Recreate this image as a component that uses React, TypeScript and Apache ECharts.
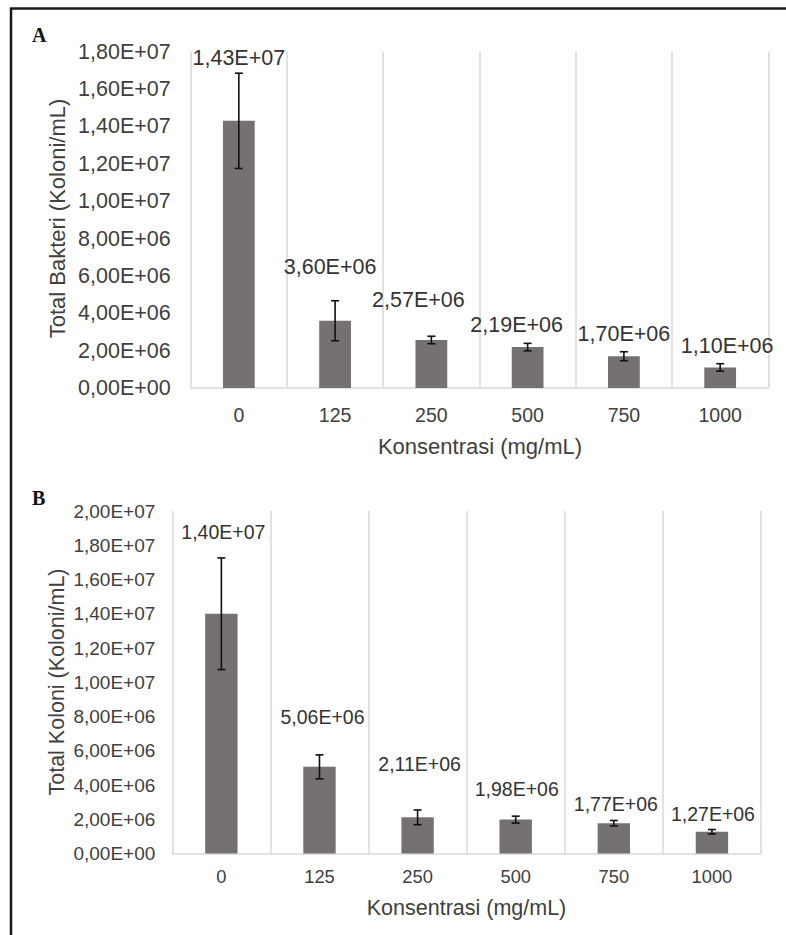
import React, { useEffect, useRef } from "react";
import * as echarts from "echarts";

const categories = ["0", "125", "250", "500", "750", "1000"];
const meanA = [1.43e7, 3.6e6, 2.57e6, 2.19e6, 1.7e6, 1.1e6];
const errA = [2.55e6, 1.07e6, 0.2e6, 0.2e6, 0.24e6, 0.2e6];
const meanB = [1.4e7, 5.06e6, 2.11e6, 1.98e6, 1.77e6, 1.27e6];
const errB = [3.26e6, 0.7e6, 0.43e6, 0.2e6, 0.16e6, 0.13e6];

// label placement (pixels) – styling only
const labelDistA = [52, 43, 29, 11, 11, 10];
const labelDxA = [0, -5, -13, -11, 0, 7];
const labelDistB = [72, 40, 43, 21, 9, 8];
const labelDxB = [2, 3, 2, 1, 2, 1];

const FONT = "'Liberation Sans', Arial, sans-serif";
const TEXT = "#404040";
const BAR = "#767171";
const GRID = "#d9d9d9";

function sci(v: number): string {
  const s = v.toExponential(2);
  const [m, e] = s.split("e");
  const ei = parseInt(e, 10);
  return m.replace(".", ",") + "E" + (ei < 0 ? "-" : "+") + String(Math.abs(ei)).padStart(2, "0");
}

function errRender(params: any, api: any) {
  const x = api.value(0);
  const lo = api.value(1);
  const hi = api.value(2);
  const pHi = api.coord([x, hi]);
  const pLo = api.coord([x, lo]);
  const half = 4;
  const style = { stroke: "#111", lineWidth: 1.6 };
  return {
    type: "group",
    children: [
      { type: "line", shape: { x1: pHi[0], y1: pHi[1], x2: pLo[0], y2: pLo[1] }, style },
      { type: "line", shape: { x1: pHi[0] - half, y1: pHi[1], x2: pHi[0] + half, y2: pHi[1] }, style },
      { type: "line", shape: { x1: pLo[0] - half, y1: pLo[1], x2: pLo[0] + half, y2: pLo[1] }, style },
    ],
  };
}

export default function App() {
  const ref = useRef<HTMLDivElement>(null);
  useEffect(() => {
    if (!ref.current) return;
    const chart = echarts.init(ref.current, undefined, { renderer: "svg" });

    const xAxisBase = (gridIndex: number, fs: number, margin: number) => ({
      type: "category",
      gridIndex,
      data: categories,
      axisLine: { show: true, lineStyle: { color: GRID, width: 1.5 } },
      axisTick: { show: false },
      axisLabel: { color: TEXT, fontSize: fs, fontFamily: FONT, margin },
      splitLine: { show: true, lineStyle: { color: GRID, width: 1.5 } },
    });
    const yAxisBase = (gridIndex: number, max: number, fs: number, margin: number) => ({
      type: "value",
      gridIndex,
      min: 0,
      max,
      interval: 2e6,
      axisLine: { show: false },
      axisTick: { show: false },
      splitLine: { show: false },
      axisLabel: { color: TEXT, fontSize: fs, fontFamily: FONT, margin, formatter: (v: number) => sci(v) },
    });

    const barData = (mean: number[], dist: number[], dx: number[]) =>
      mean.map((v, i) => ({ value: v, label: { distance: dist[i], offset: [dx[i], 0] } }));

    const option = {
      animation: false,
      backgroundColor: "#ffffff",
      grid: [
        { left: 190.7, width: 577.6, top: 51.7, height: 336.3 },
        { left: 172.3, width: 588.7, top: 511, height: 342.5 },
      ],
      xAxis: [xAxisBase(0, 19.5, 17), xAxisBase(1, 18.3, 14)],
      yAxis: [yAxisBase(0, 1.8e7, 21.5, 20), yAxisBase(1, 2e7, 19, 17)],
      series: [
        {
          type: "bar",
          xAxisIndex: 0,
          yAxisIndex: 0,
          barWidth: "33%",
          itemStyle: { color: BAR },
          label: { show: true, position: "top", color: "#333", fontSize: 21.5, fontFamily: FONT, formatter: (p: any) => sci(p.value) },
          data: barData(meanA, labelDistA, labelDxA),
          z: 2,
        },
        {
          type: "custom",
          xAxisIndex: 0,
          yAxisIndex: 0,
          renderItem: errRender,
          encode: { x: 0, y: [1, 2] },
          data: meanA.map((v, i) => [i, v - errA[i], v + errA[i]]),
          z: 3,
        },
        {
          type: "bar",
          xAxisIndex: 1,
          yAxisIndex: 1,
          barWidth: "33%",
          itemStyle: { color: BAR },
          label: { show: true, position: "top", color: "#333", fontSize: 19.5, fontFamily: FONT, formatter: (p: any) => sci(p.value) },
          data: barData(meanB, labelDistB, labelDxB),
          z: 2,
        },
        {
          type: "custom",
          xAxisIndex: 1,
          yAxisIndex: 1,
          renderItem: errRender,
          encode: { x: 0, y: [1, 2] },
          data: meanB.map((v, i) => [i, v - errB[i], v + errB[i]]),
          z: 3,
        },
      ],
      graphic: [
        { type: "line", shape: { x1: 10, y1: 8.5, x2: 786, y2: 8.5 }, style: { stroke: "#1a1a1a", lineWidth: 2.5 } },
        { type: "line", shape: { x1: 11, y1: 8, x2: 11, y2: 935 }, style: { stroke: "#1a1a1a", lineWidth: 2.5 } },
        { type: "text", x: 32, y: 35, style: { text: "A", font: "bold 20px 'Liberation Serif', 'Times New Roman', serif", fill: "#111", verticalAlign: "middle" } },
        { type: "text", x: 32, y: 498, style: { text: "B", font: "bold 20px 'Liberation Serif', 'Times New Roman', serif", fill: "#111", verticalAlign: "middle" } },
        { type: "text", x: 480, y: 446.7, style: { text: "Konsentrasi (mg/mL)", font: `22px ${FONT}`, fill: TEXT, align: "center", verticalAlign: "middle" } },
        { type: "text", x: 466.5, y: 908.3, style: { text: "Konsentrasi (mg/mL)", font: `21.5px ${FONT}`, fill: TEXT, align: "center", verticalAlign: "middle" } },
        { type: "text", x: 57, y: 218.5, rotation: Math.PI / 2, style: { text: "Total Bakteri (Koloni/mL)", font: `22px ${FONT}`, fill: TEXT, align: "center", verticalAlign: "middle" } },
        { type: "text", x: 57, y: 682, rotation: Math.PI / 2, style: { text: "Total Koloni (Koloni/mL)", font: `21.5px ${FONT}`, fill: TEXT, align: "center", verticalAlign: "middle" } },
      ],
    };
    chart.setOption(option as any);
    return () => chart.dispose();
  }, []);
  return <div ref={ref} style={{ position: "absolute", left: 0, top: 0, width: 786, height: 935 }} />;
}
